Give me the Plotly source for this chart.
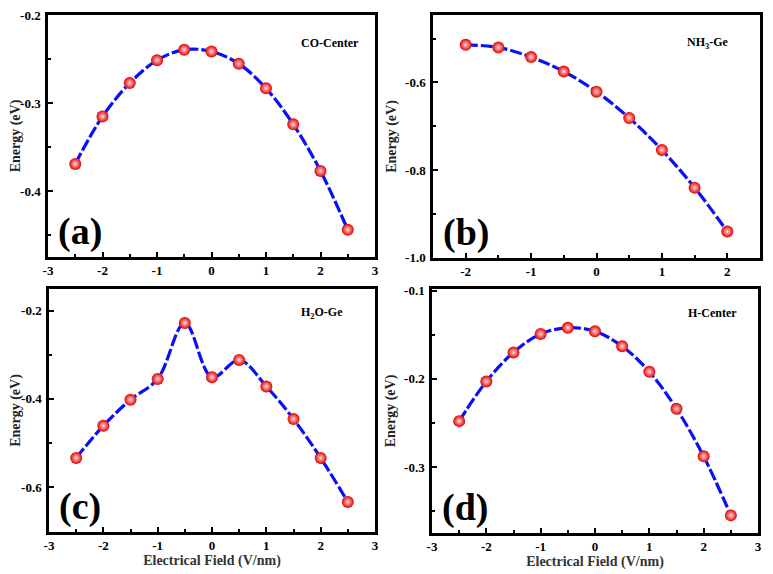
import plotly.graph_objects as go
from plotly.subplots import make_subplots

# electric field values (V/nm)
field_a = [-2.5, -2, -1.5, -1, -0.5, 0, 0.5, 1, 1.5, 2, 2.5]
energy_a = [-0.369, -0.315, -0.277, -0.251, -0.239, -0.241, -0.255, -0.283, -0.324, -0.377, -0.444]

field_b = [-2, -1.5, -1, -0.5, 0, 0.5, 1, 1.5, 2]
energy_b = [-0.514, -0.520, -0.542, -0.575, -0.621, -0.681, -0.754, -0.840, -0.940]

field_c = [-2.5, -2, -1.5, -1, -0.5, 0, 0.5, 1, 1.5, 2, 2.5]
energy_c = [-0.534, -0.461, -0.402, -0.355, -0.228, -0.351, -0.312, -0.372, -0.446, -0.534, -0.634]

field_d = [-2.5, -2, -1.5, -1, -0.5, 0, 0.5, 1, 1.5, 2, 2.5]
energy_d = [-0.248, -0.203, -0.170, -0.149, -0.142, -0.146, -0.163, -0.192, -0.234, -0.288, -0.355]

names = ["CO-Center", "NH<sub>3</sub>-Ge", "H<sub>2</sub>O-Ge", "H-Center"]
letters = ["(a)", "(b)", "(c)", "(d)"]

FONT = "Liberation Serif"

fig = make_subplots(rows=2, cols=2)

panels = [(field_a, energy_a), (field_b, energy_b), (field_c, energy_c), (field_d, energy_d)]
cells = [(1, 1), (1, 2), (2, 1), (2, 2)]

for (xs, ys), (r, c) in zip(panels, cells):
    fig.add_trace(go.Scatter(
        x=xs, y=ys, mode="lines+markers",
        line=dict(color="#0a10f5", width=3.2, dash="12px,3px", shape="spline", smoothing=1.0),
        marker=dict(size=12, color="#e20000",
                    gradient=dict(type="radial", color="#ffd6d6"),
                    line=dict(width=0)),
        showlegend=False,
    ), row=r, col=c)

# panel boxes in picture pixels; the page body adds an 8px offset, so the figure is drawn 8px smaller
OFF = 8
W, H = 773 - OFF, 574 - OFF
boxes = [(48, 375, 15, 257), (433, 760, 15, 258), (49, 375, 289, 532), (432, 758, 289, 533)]
xranges = [[-3, 3], [-2.5, 2.5], [-3, 3], [-3, 3]]
yranges = [[-0.475, -0.1995], [-1.0005, -0.446], [-0.702, -0.151], [-0.375, -0.098]]
xticks = [[-3, -2, -1, 0, 1, 2, 3], [-2, -1, 0, 1, 2], [-3, -2, -1, 0, 1, 2, 3], [-3, -2, -1, 0, 1, 2, 3]]
yticks = [[-0.2, -0.3, -0.4], [-0.6, -0.8, -1.0], [-0.2, -0.4, -0.6], [-0.1, -0.2, -0.3]]
ydticks = [0.1, 0.2, 0.2, 0.1]
name_pos = [(0.862, 0.884), (0.841, 0.885), (0.837, 0.90), (0.859, 0.90)]

tickfont = dict(family=FONT, size=13, color="black", weight="bold")

for i, (x0, x1, y0, y1) in enumerate(boxes):
    x0, x1, y0, y1 = x0 - OFF, x1 - OFF, y0 - OFF, y1 - OFF
    xa = "xaxis" if i == 0 else "xaxis%d" % (i + 1)
    ya = "yaxis" if i == 0 else "yaxis%d" % (i + 1)
    fig.layout[xa].update(
        domain=[x0 / W, x1 / W], range=xranges[i], automargin=False,
        tickvals=xticks[i], ticktext=[str(v) for v in xticks[i]],
        ticks="inside", ticklen=5, tickwidth=2, tickcolor="black",
        minor=dict(tickmode="linear", tick0=0, dtick=0.5, ticks="inside", ticklen=3,
                   tickwidth=2, tickcolor="black", showgrid=False),
        showline=True, linewidth=2.5, linecolor="black", mirror=True,
        showgrid=False, zeroline=False, tickfont=tickfont, ticklabelstandoff=0,
        ticklabeloverflow="allow",
        title=dict(text="Electrical Field (V/nm)" if i >= 2 else "",
                   font=dict(family=FONT, size=14, color="#333", weight="bold"), standoff=0),
    )
    fig.layout[ya].update(
        domain=[1 - y1 / H, 1 - y0 / H], range=yranges[i], automargin=False,
        tickvals=yticks[i], ticktext=["%.1f" % v for v in yticks[i]],
        ticks="inside", ticklen=5, tickwidth=2, tickcolor="black",
        minor=dict(tickmode="linear", tick0=0, dtick=ydticks[i] / 2, ticks="inside", ticklen=3,
                   tickwidth=2, tickcolor="black", showgrid=False),
        showline=True, linewidth=2.5, linecolor="black", mirror=True,
        showgrid=False, zeroline=False, tickfont=tickfont, ticklabelstandoff=2,
        ticklabeloverflow="allow",
        title=dict(text="Energy (eV)", font=dict(family=FONT, size=14, color="#222", weight="bold"),
                   standoff=6),
    )
    xref = "x domain" if i == 0 else "x%d domain" % (i + 1)
    yref = "y domain" if i == 0 else "y%d domain" % (i + 1)
    fig.add_annotation(text=names[i], xref=xref, yref=yref, x=name_pos[i][0], y=name_pos[i][1],
                       xanchor="center", yanchor="middle",
                       showarrow=False, font=dict(family=FONT, size=12, color="black", weight="bold"))
    fig.add_annotation(text=letters[i], xref=xref, yref=yref, x=0.025, y=0.01,
                       xanchor="left", yanchor="bottom", showarrow=False,
                       font=dict(family=FONT, size=38, color="black", weight="bold"))

fig.update_layout(
    width=W, height=H,
    margin=dict(l=0, r=0, t=0, b=0),
    paper_bgcolor="white", plot_bgcolor="white",
)

fig.write_html("out.html")
